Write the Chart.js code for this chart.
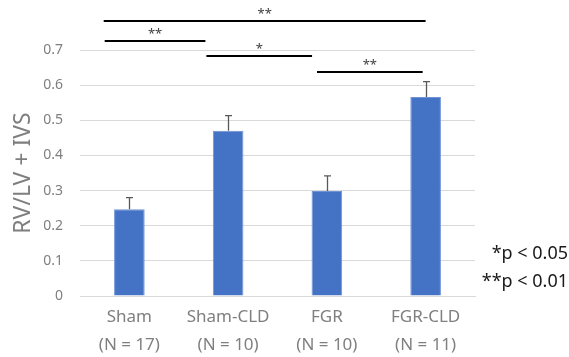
<!doctype html>
<html>
  <head>
    <script src="https://cdnjs.cloudflare.com/ajax/libs/Chart.js/4.4.1/chart.umd.js"></script>
    <style>
      body { margin: 0; background: #fff; }
      #wrap { position: relative; width: 569px; height: 357px; }
    </style>
    <script>
      // groups and their sample sizes
      let groups = ['Sham', 'Sham-CLD', 'FGR', 'FGR-CLD'];
      let groupN = ['(N = 17)', '(N = 10)', '(N = 10)', '(N = 11)'];
      // mean ratio and upper error (SD/SE)
      let means = [0.247, 0.470, 0.299, 0.566];
      let errors = [0.033, 0.043, 0.043, 0.044];
      let yTicks = [0, 0.1, 0.2, 0.3, 0.4, 0.5, 0.6, 0.7];

      // significance brackets: start / end in category units, height in axis units
      let sigFrom = [-0.26, -0.25, 0.78, 1.90];
      let sigTo = [3.00, 0.77, 1.85, 2.97];
      let sigLevel = [0.783, 0.727, 0.683, 0.638];
      let sigMark = ['**', '**', '*', '**'];

      let legendLines = ['*p < 0.05', '**p < 0.01'];

      const latin = '"Noto Sans", "Noto Sans CJK JP", sans-serif';

      let errorBarPlugin = {
        id: 'errorBars',
        afterDatasetsDraw(chart) {
          let ctx = chart.ctx;
          let x = chart.scales.x, y = chart.scales.y;
          ctx.save();
          ctx.strokeStyle = '#595959';
          ctx.lineWidth = 1.3;
          for (let i = 0; i < means.length; i++) {
            let px = Math.round(x.getPixelForValue(i)) + 0.5;
            let top = y.getPixelForValue(means[i] + errors[i]);
            let base = y.getPixelForValue(means[i]);
            ctx.beginPath();
            ctx.moveTo(px, base);
            ctx.lineTo(px, top);
            ctx.moveTo(px - 3.5, top);
            ctx.lineTo(px + 3.5, top);
            ctx.stroke();
          }
          ctx.restore();
        }
      };

      let sigPlugin = {
        id: 'sigBrackets',
        afterDraw(chart) {
          let ctx = chart.ctx;
          let x = chart.scales.x, y = chart.scales.y;
          ctx.save();
          for (let i = 0; i < sigMark.length; i++) {
            let x1 = x.getPixelForValue(sigFrom[i]);
            let x2 = x.getPixelForValue(sigTo[i]);
            let py = Math.round(y.getPixelForValue(sigLevel[i]));
            ctx.strokeStyle = '#000';
            ctx.lineWidth = 2;
            ctx.beginPath();
            ctx.moveTo(x1, py);
            ctx.lineTo(x2, py);
            ctx.stroke();
            ctx.fillStyle = '#404040';
            ctx.font = '13px ' + latin;
            ctx.textAlign = 'center';
            ctx.textBaseline = 'middle';
            ctx.fillText(sigMark[i], (x1 + x2) / 2, py - 7);
          }
          // p-value key at the right
          ctx.fillStyle = '#1a1a1a';
          ctx.font = '18px ' + latin;
          ctx.textAlign = 'right';
          ctx.textBaseline = 'middle';
          ctx.fillText(legendLines[0], 568, 254);
          ctx.fillText(legendLines[1], 568, 282);
          ctx.restore();
        }
      };

      let chart1;
      function startPage() {
        chart1 = new Chart(document.getElementById('c1'), {
          type: 'bar',
          data: {
            labels: groups.map((g, i) => [g, groupN[i]]),
            datasets: [{
              data: means,
              backgroundColor: '#4472C4',
              borderColor: '#6f93d6',
              borderWidth: 1,
              barPercentage: 0.31,
              categoryPercentage: 1
            }]
          },
          options: {
            responsive: true,
            maintainAspectRatio: false,
            animation: false,
            layout: { padding: { top: 50, right: 94, left: 0, bottom: 0 } },
            plugins: { legend: { display: false }, tooltip: { enabled: false } },
            scales: {
              x: {
                afterFit(scale) { scale.height = 61; },
                grid: { display: false, drawTicks: false },
                border: { color: '#d9d9d9', width: 1 },
                ticks: {
                  color: '#7f7f7f',
                  font: { family: latin, size: 17, lineHeight: 1.6 },
                  padding: 8,
                  maxRotation: 0
                }
              },
              y: {
                min: 0,
                max: 0.7,
                afterFit(scale) { scale.width = 80; },
                afterBuildTicks(scale) { scale.ticks = yTicks.map(v => ({ value: v })); },
                grid: { color: '#d9d9d9', drawTicks: false },
                border: { display: false },
                ticks: {
                  color: '#7f7f7f',
                  font: { family: latin, size: 14 },
                  padding: 17,
                  callback: v => v === 0 ? '0' : v.toFixed(1)
                },
                title: {
                  display: true,
                  text: 'RV/LV + IVS',
                  color: '#7f7f7f',
                  font: { family: latin, size: 23, lineHeight: 1.2 },
                  padding: { top: 10, bottom: 4 }
                }
              }
            }
          },
          plugins: [errorBarPlugin, sigPlugin]
        });
      }
    </script>
  </head>
  <body onload="startPage()">
    <div id="wrap">
      <canvas id="c1"></canvas>
    </div>
  </body>
</html>
